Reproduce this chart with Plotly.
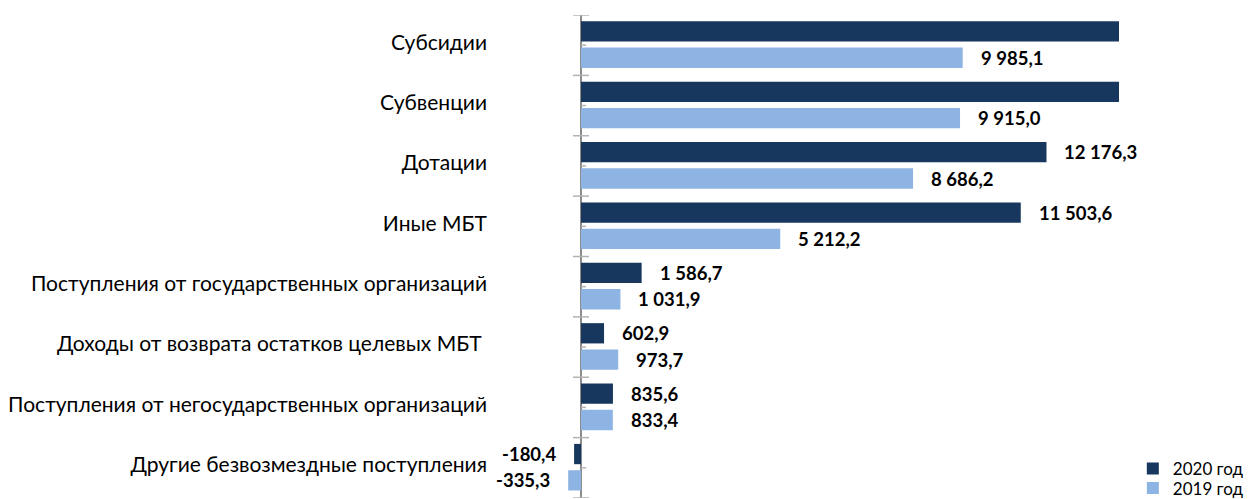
import plotly.graph_objects as go

categories = [
    "Субсидии",
    "Субвенции",
    "Дотации",
    "Иные МБТ",
    "Поступления от государственных организаций",
    "Доходы от возврата остатков целевых МБТ ",
    "Поступления от негосударственных организаций",
    "Другие безвозмездные поступления",
]
values_2020 = [15200.0, 15100.0, 12176.3, 11503.6, 1586.7, 602.9, 835.6, -180.4]
values_2019 = [9985.1, 9915.0, 8686.2, 5212.2, 1031.9, 973.7, 833.4, -335.3]
series_names = ["2020 год", "2019 год"]

X_MIN, X_MAX = -392, 14073
DARK = "#17375E"
LIGHT = "#8EB4E3"
BAR_W = 0.336
OFF_2020 = -0.396
OFF_2019 = 0.04


def fmt(v):
    s = f"{abs(v):,.1f}".replace(",", " ").replace(".", ",")
    return ("-" if v < 0 else "") + s


pos = list(range(len(categories)))
fig = go.Figure()
fig.add_trace(go.Bar(
    y=pos, x=values_2020, orientation="h", name=series_names[0],
    marker=dict(color=DARK, line=dict(width=0)),
    width=BAR_W, offset=OFF_2020, legend="legend",
))
fig.add_trace(go.Bar(
    y=pos, x=values_2019, orientation="h", name=series_names[1],
    marker=dict(color=LIGHT, line=dict(width=0)),
    width=BAR_W, offset=OFF_2019, legend="legend2",
))

annotations = []
for vals, off in ((values_2020, OFF_2020), (values_2019, OFF_2019)):
    for i, v in enumerate(vals):
        if v > X_MAX:
            continue
        annotations.append(dict(
            x=v, y=i + off + BAR_W / 2, xref="x", yref="y",
            text=f"<b>{fmt(v)}</b>", showarrow=False,
            xanchor="left" if v >= 0 else "right",
            xshift=16 if v >= 0 else -16,
            font=dict(family="Lato", size=18.5, color="#000000"),
        ))

shapes = []
n = len(categories)
for k in range(n + 1):
    shapes.append(dict(
        type="line", xref="x", yref="y", xsizemode="pixel", xanchor=0,
        x0=-8, x1=8, y0=k - 0.5, y1=k - 0.5,
        line=dict(color="#b3b3b3", width=1.5), layer="above",
    ))
for k in range(n):
    shapes.append(dict(
        type="line", xref="x", yref="y", xsizemode="pixel", xanchor=0,
        x0=0, x1=5, y0=k, y1=k,
        line=dict(color="#b3b3b3", width=1.5), layer="above",
    ))

fig.update_layout(
    width=1256, height=499,
    margin=dict(l=566, r=137, t=15, b=1, autoexpand=False),
    paper_bgcolor="white", plot_bgcolor="white",
    font=dict(family="Lato", color="#000000"),
    showlegend=True,
    legend=dict(x=1.025, y=0.06, xanchor="left", yanchor="middle",
                font=dict(family="Lato", size=17, color="#000000"),
                bgcolor="rgba(0,0,0,0)", borderwidth=0,
                tracegroupgap=0, itemsizing="constant"),
    legend2=dict(x=1.025, y=0.02, xanchor="left", yanchor="middle",
                 font=dict(family="Lato", size=17, color="#000000"),
                 bgcolor="rgba(0,0,0,0)", borderwidth=0,
                 tracegroupgap=0, itemsizing="constant"),
    xaxis=dict(range=[X_MIN, X_MAX], showgrid=False, showticklabels=False,
               ticks="", showline=False, zeroline=True,
               zerolinecolor="#8c8c8c", zerolinewidth=1.5),
    yaxis=dict(range=[n - 0.5, -0.5], tickvals=pos, ticktext=categories,
               showgrid=False, ticks="", showline=False, zeroline=False,
               ticklabelstandoff=78, ticklabelshift=3,
               tickfont=dict(family="Lato", size=21, color="#000000")),
    annotations=annotations,
    shapes=shapes,
)

fig.write_html("out.html")
